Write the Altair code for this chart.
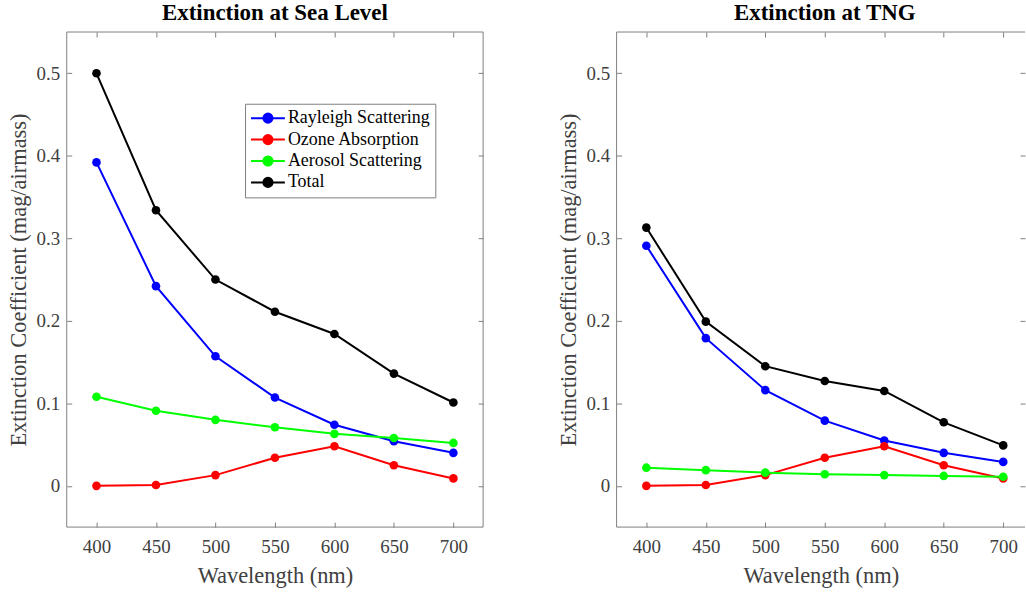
import altair as alt
import pandas as pd

wavelength = [400, 450, 500, 550, 600, 650, 700]
series_names = ["Rayleigh Scattering", "Ozone Absorption", "Aerosol Scattering", "Total"]
series_colors = ["#0000FF", "#FF0000", "#00FF00", "#000000"]

sea_rayleigh = [0.392, 0.242, 0.157, 0.107, 0.074, 0.054, 0.040]
sea_ozone = [0.000, 0.001, 0.013, 0.034, 0.048, 0.025, 0.009]
sea_aerosol = [0.108, 0.091, 0.080, 0.071, 0.063, 0.058, 0.052]
sea_total = [0.500, 0.334, 0.250, 0.211, 0.184, 0.136, 0.101]

tng_rayleigh = [0.291, 0.179, 0.116, 0.079, 0.055, 0.040, 0.029]
tng_ozone = [0.000, 0.001, 0.013, 0.034, 0.048, 0.025, 0.009]
tng_aerosol = [0.022, 0.019, 0.016, 0.014, 0.013, 0.012, 0.011]
tng_total = [0.313, 0.199, 0.145, 0.127, 0.115, 0.077, 0.049]

x_ticks = [400, 450, 500, 550, 600, 650, 700]
y_ticks = [0, 0.1, 0.2, 0.3, 0.4, 0.5]

FONT = "Liberation Serif"
FRAME = "#808080"
TEXT = "#404040"
H = 497


def long_df(values):
    rows = []
    for name, vals in zip(series_names, values):
        for w, v in zip(wavelength, vals):
            rows.append({"wavelength": w, "value": v, "series": name})
    return pd.DataFrame(rows)


sea_df = long_df([sea_rayleigh, sea_ozone, sea_aerosol, sea_total])
tng_df = long_df([tng_rayleigh, tng_ozone, tng_aerosol, tng_total])

LEGEND_PATH = "M-1,0L1,0M0.27,0A0.27,0.27,0,1,1,-0.27,0A0.27,0.27,0,1,1,0.27,0Z"


def panel(df, title, width, xmax, leg_x, leg_y, title_dx, right_frame):
    xs = alt.Scale(domain=[375, xmax], nice=False, zero=False)
    ys = alt.Scale(domain=[-0.05, 0.55], nice=False, zero=False)
    color = alt.Color(
        "series:N",
        scale=alt.Scale(domain=series_names, range=series_colors),
        legend=alt.Legend(
            title=None, orient="none", legendX=leg_x, legendY=leg_y,
            symbolType=LEGEND_PATH, symbolSize=1156, symbolStrokeWidth=2,
            labelFont=FONT, labelFontSize=18, labelColor="#000000",
            labelOffset=2, rowPadding=2.5, padding=5, clipHeight=19,
            strokeColor=FRAME, fillColor="#FFFFFF",
        ),
    )
    lines = alt.Chart(df).mark_line(
        strokeWidth=2, point=alt.OverlayMarkDef(filled=True, size=75, opacity=1)
    ).encode(
        x=alt.X("wavelength:Q", scale=xs, axis=alt.Axis(
            values=x_ticks, title="Wavelength (nm)", orient="bottom",
            offset=-5, tickSize=5, domain=False, grid=False,
            labelPadding=11, titlePadding=8,
        )),
        y=alt.Y("value:Q", scale=ys, axis=alt.Axis(
            values=y_ticks, format=".1~f", title="Extinction Coefficient (mag/airmass)",
            orient="left", offset=-5, tickSize=5, domain=False, grid=False,
            labelPadding=7, titlePadding=6,
        )),
        color=color,
    )
    ghost = alt.Chart(df).mark_point(opacity=0).encode(
        x=alt.X("wavelength:Q", scale=xs, axis=alt.Axis(
            values=x_ticks, orient="top", labels=False, title=None,
            offset=-5, tickSize=5, domain=False, grid=False)),
        y=alt.Y("value:Q", scale=ys, axis=alt.Axis(
            values=y_ticks, orient="right", labels=False, title=None,
            offset=-5, tickSize=5, domain=False, grid=False)),
    )
    one = pd.DataFrame({"k": [0]})
    frame_layers = [
        alt.Chart(one).mark_rule(color=FRAME, strokeWidth=1).encode(
            x=alt.value(0), x2=alt.value(width), y=alt.value(0)),
        alt.Chart(one).mark_rule(color=FRAME, strokeWidth=1).encode(
            x=alt.value(0), x2=alt.value(width), y=alt.value(H)),
        alt.Chart(one).mark_rule(color=FRAME, strokeWidth=1).encode(
            x=alt.value(0), y=alt.value(0), y2=alt.value(H)),
    ]
    if right_frame:
        frame_layers.append(
            alt.Chart(one).mark_rule(color=FRAME, strokeWidth=1).encode(
                x=alt.value(width), y=alt.value(0), y2=alt.value(H)))
    return alt.layer(ghost, *frame_layers, lines).resolve_axis(
        x="independent", y="independent"
    ).properties(
        width=width, height=H,
        title=alt.TitleParams(title, font=FONT, fontSize=23, fontWeight="bold",
                              color="#000000", anchor="middle", baseline="alphabetic",
                              frame="group", offset=-11, dx=title_dx),
    )


left = panel(sea_df, "Extinction at Sea Level", 418, 725, 179, 72, 0, True)
right = panel(tng_df, "Extinction at TNG", 410, 375 + 410 * 350 / 418, 170, 84, 4, False)

chart = alt.hconcat(left, right, spacing=73).properties(
    padding={"left": 7, "top": 0, "right": 0, "bottom": 0}
).configure_view(stroke=None).configure_axis(
    labelFont=FONT, labelFontSize=19, labelColor=TEXT,
    titleFont=FONT, titleFontSize=22.5, titleColor=TEXT, titleFontWeight="normal",
    tickColor=FRAME, tickWidth=1,
)

chart.save("out.html", embed_options={"renderer": "svg", "actions": False})
